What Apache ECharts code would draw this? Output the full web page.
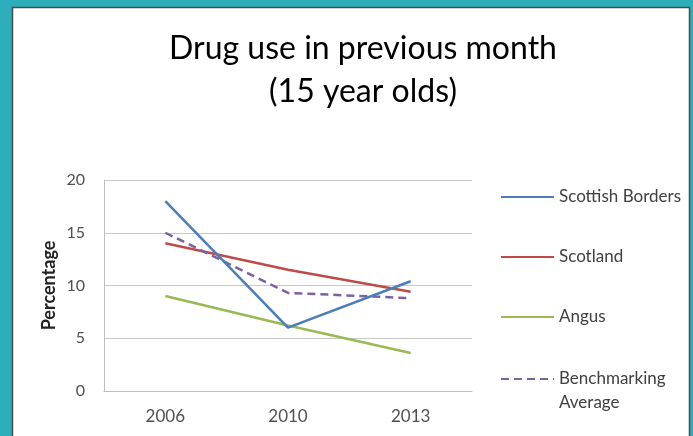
<!DOCTYPE html>
<html>
<head>
<meta charset="utf-8">
<style>
  html, body { margin: 0; padding: 0; background: #2eaebb; }
  #chart { width: 693px; height: 436px; }
</style>
<script src="https://cdn.jsdelivr.net/npm/echarts@6/dist/echarts.min.js"></script>
</head>
<body>
<div id="chart"></div>
<script>
// Survey years on the category axis
const years = ['2006', '2010', '2013'];

// Percentage of 15 year olds reporting drug use in the previous month
const scottishBorders = [18.0, 6.0, 10.4];
const scotland = [14.0, 11.5, 9.4];
const angus = [9.0, 6.2, 3.6];
const benchmarkingAverage = [15.0, 9.3, 8.8];

const yTicks = { min: 0, max: 20, interval: 5 };

const FONT = 'Lato, "Open Sans", sans-serif';

const chart = echarts.init(document.getElementById('chart'), null, { renderer: 'canvas' });

// One legend block per series so each row sits at its own height
function legendFor(name, top, extra) {
  return Object.assign({
    data: [name],
    orient: 'vertical',
    left: 500,
    top: top,
    itemWidth: 53,
    itemHeight: 20,
    itemGap: 0,
    padding: 0,
    selectedMode: false,
    itemStyle: { opacity: 0 },
    textStyle: {
      fontFamily: FONT,
      fontSize: 17,
      color: '#404040',
      lineHeight: 20
    }
  }, extra || {});
}

const option = {
  backgroundColor: '#2eaebb',
  animation: false,
  graphic: {
    elements: [{
      type: 'rect',
      z: -100,
      silent: true,
      shape: { x: 12.5, y: 7.5, width: 677, height: 440 },
      style: { fill: '#ffffff', stroke: '#4a4a4a', lineWidth: 1.5 }
    }]
  },
  title: {
    text: 'Drug use in previous month\n(15 year olds)',
    left: 358,
    textAlign: 'center',
    top: 22,
    textStyle: {
      fontFamily: FONT,
      fontSize: 32,
      fontWeight: 'normal',
      color: '#000000',
      lineHeight: 43
    }
  },
  legend: [
    legendFor('Scottish Borders', 187),
    legendFor('Scotland', 247),
    legendFor('Angus', 307),
    legendFor('Benchmarking Average', 343, {
      // leading blank line keeps the icon level with the first word
      formatter: function () { return '\nBenchmarking\nAverage'; },
      textStyle: {
        fontFamily: FONT,
        fontSize: 17,
        color: '#404040',
        lineHeight: 24
      }
    })
  ],
  grid: {
    left: 104,
    right: 221,
    top: 180,
    bottom: 45,
    containLabel: false
  },
  xAxis: {
    type: 'category',
    data: years,
    boundaryGap: true,
    axisLine: { show: true, lineStyle: { color: '#bfbfbf', width: 1 } },
    axisTick: { show: false },
    axisLabel: {
      fontFamily: FONT,
      fontSize: 17,
      color: '#505050',
      margin: 17
    },
    splitLine: { show: false }
  },
  yAxis: {
    type: 'value',
    min: yTicks.min,
    max: yTicks.max,
    interval: yTicks.interval,
    name: 'Percentage',
    nameLocation: 'middle',
    nameGap: 46,
    nameMoveOverlap: false,
    nameRotate: 90,
    nameTextStyle: {
      fontFamily: FONT,
      fontSize: 18,
      fontWeight: 'bold',
      color: '#222222'
    },
    axisLine: { show: true, lineStyle: { color: '#bfbfbf', width: 1 } },
    axisTick: { show: false },
    axisLabel: {
      fontFamily: FONT,
      fontSize: 16,
      color: '#505050',
      margin: 19
    },
    splitLine: { show: true, lineStyle: { color: '#c8c8c8', width: 1 } }
  },
  series: [
    {
      name: 'Scottish Borders',
      type: 'line',
      data: scottishBorders,
      symbol: 'none',
      z: 4,
      lineStyle: { color: '#4a7ebb', width: 2.5 },
      itemStyle: { color: '#4a7ebb' }
    },
    {
      name: 'Scotland',
      type: 'line',
      data: scotland,
      symbol: 'none',
      z: 3,
      lineStyle: { color: '#be4b48', width: 2.5 },
      itemStyle: { color: '#be4b48' }
    },
    {
      name: 'Angus',
      type: 'line',
      data: angus,
      symbol: 'none',
      z: 3,
      lineStyle: { color: '#98b954', width: 2.5 },
      itemStyle: { color: '#98b954' }
    },
    {
      name: 'Benchmarking Average',
      type: 'line',
      data: benchmarkingAverage,
      symbol: 'none',
      z: 3,
      lineStyle: { color: '#7d60a0', width: 2.5, type: [8, 5] },
      itemStyle: { color: '#7d60a0' }
    }
  ]
};

chart.setOption(option);
</script>
</body>
</html>
